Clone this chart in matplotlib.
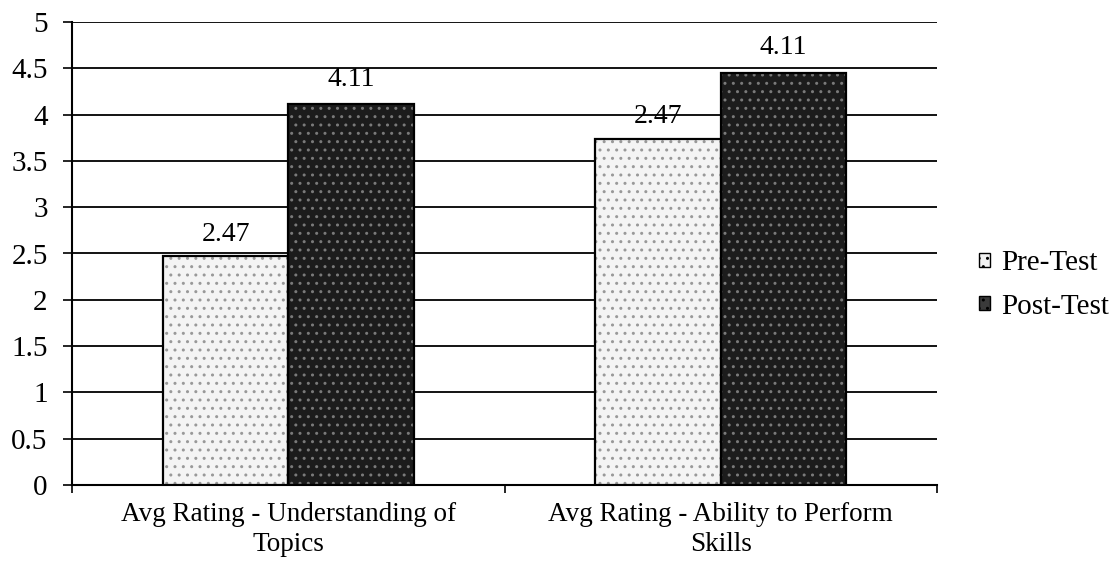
import numpy as np
import matplotlib.pyplot as plt
from matplotlib.patches import Patch

categories = ['Avg Rating - Understanding of\nTopics', 'Avg Rating - Ability to Perform\nSkills']
series_names = ['Pre-Test', 'Post-Test']
pre_test = [2.47, 3.74]
post_test = [4.11, 4.45]
# labels as printed on the chart
pre_labels = ['2.47', '2.47']
post_labels = ['4.11', '4.11']
y_ticks = [0, 0.5, 1, 1.5, 2, 2.5, 3, 3.5, 4, 4.5, 5]

plt.rcParams['font.family'] = ['Liberation Serif', 'DejaVu Serif']
plt.rcParams['hatch.linewidth'] = 1.0

fig = plt.figure(figsize=(11.14, 5.65), dpi=100)
ax = fig.add_axes([72/1114, 1 - 485/565, (937 - 72)/1114, (485 - 22)/565])

x = np.arange(len(categories))
w = 0.29
# stipple texture, then outlined bars on top
ax.bar(x - w/2, pre_test, w, color='#f4f4f4', edgecolor='#999999', lw=0, hatch='..', zorder=3)
ax.bar(x + w/2, post_test, w, color='#1c1c1c', edgecolor='#7a7a7a', lw=0, hatch='..', zorder=3)
b1 = ax.bar(x - w/2, pre_test, w, fill=False, edgecolor='black', lw=1.6, zorder=4)
b2 = ax.bar(x + w/2, post_test, w, fill=False, edgecolor='black', lw=1.6, zorder=4)

for rect, lab in zip(b1, pre_labels):
    ax.annotate(lab, (rect.get_x() + rect.get_width()/2, rect.get_height()),
                xytext=(0, 16), textcoords='offset points', ha='center', va='center', fontsize=20)
for rect, lab in zip(b2, post_labels):
    ax.annotate(lab, (rect.get_x() + rect.get_width()/2, rect.get_height()),
                xytext=(0, 18), textcoords='offset points', ha='center', va='center', fontsize=20)

ax.set_xlim(-0.5, len(categories) - 0.5)
ax.set_ylim(0, 5)
ax.set_yticks(y_ticks)
ax.set_yticklabels([f'{t:g}' for t in y_ticks])
ax.yaxis.grid(True, color='black', lw=1.3, zorder=0)
ax.set_axisbelow(True)

ax.set_xticks(np.arange(len(categories) + 1) - 0.5)
ax.set_xticklabels([])
ax.set_xticks(x, minor=True)
ax.set_xticklabels(categories, minor=True, fontsize=19.5, linespacing=1.3)
ax.tick_params(axis='x', which='minor', length=0, pad=12)
ax.tick_params(axis='x', which='major', length=6, width=1.2, direction='out')
ax.tick_params(axis='y', length=6.5, width=1.2, labelsize=21, pad=11)

for s in ['top', 'right']:
    ax.spines[s].set_visible(False)
for s in ['left', 'bottom']:
    ax.spines[s].set_linewidth(1.5)

handles = [Patch(facecolor='#f2f2f2', edgecolor='black', lw=1.0, hatch='..'),
           Patch(facecolor='#3a3a3a', edgecolor='black', lw=1.0, hatch='..')]
fig.legend(handles=handles, labels=series_names, loc='center left',
           bbox_to_anchor=(979/1114, 1 - 285/565), borderaxespad=0,
           frameon=False, fontsize=21, handlelength=0.36, handleheight=0.36,
           handletextpad=0.4, labelspacing=0.6, borderpad=0)

fig.savefig('out.png', dpi=100)
